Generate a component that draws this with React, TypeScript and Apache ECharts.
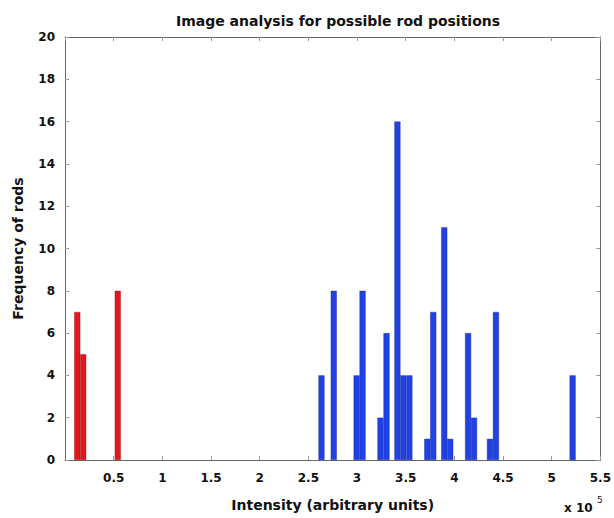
import React, { useEffect, useRef } from "react";
import * as echarts from "echarts";

const redCenters = [0.126, 0.187, 0.542];
const redCounts = [7, 5, 8];
const blueCenters = [2.635, 2.761, 2.996, 3.057, 3.241, 3.303, 3.415, 3.476, 3.538, 3.722, 3.783, 3.896, 3.957, 4.141, 4.202, 4.366, 4.427, 5.215];
const blueCounts = [4, 8, 4, 8, 2, 6, 16, 4, 4, 1, 7, 11, 1, 6, 2, 1, 7, 4];

const FONT = "DejaVu Sans";

export default function App() {
  const ref = useRef<HTMLDivElement>(null);
  useEffect(() => {
    document.body.style.margin = "0";
    const chart = echarts.init(ref.current!, null, { renderer: "svg" });
    const axisLine = { show: true, onZero: false, lineStyle: { color: "#666", width: 1 } };
    const axisTick = { show: true, inside: true, length: 4, lineStyle: { color: "#999" } };
    chart.setOption({
      animation: false,
      backgroundColor: "#fff",
      title: {
        text: "Image analysis for possible rod positions",
        left: 333,
        textAlign: "center",
        top: 9,
        textStyle: { fontFamily: FONT, fontSize: 14, fontWeight: "bold", color: "#111" },
      },
      grid: { left: 65, right: 11, top: 37, bottom: 58 },
      xAxis: [
        {
          type: "value",
          min: 0,
          max: 5.5,
          interval: 0.5,
          axisLine,
          axisTick,
          axisLabel: { showMinLabel: false, fontFamily: FONT, fontSize: 12, fontWeight: "bold", color: "#111", margin: 12 },
          splitLine: { show: false },
          name: "Intensity (arbitrary units)",
          nameLocation: "middle",
          nameGap: 38,
          nameTextStyle: { fontFamily: FONT, fontSize: 14, fontWeight: "bold", color: "#111" },
        },
        {
          type: "value",
          position: "top",
          min: 0,
          max: 5.5,
          interval: 0.5,
          axisLine,
          axisTick,
          axisLabel: { show: false },
          splitLine: { show: false },
        },
      ],
      yAxis: [
        {
          type: "value",
          min: 0,
          max: 20,
          interval: 2,
          axisLine,
          axisTick,
          axisLabel: { fontFamily: FONT, fontSize: 12, color: "#111", fontWeight: "bold", margin: 10 },
          splitLine: { show: false },
          name: "Frequency of rods",
          nameLocation: "middle",
          nameGap: 40,
          nameTextStyle: { fontFamily: FONT, fontSize: 14, fontWeight: "bold", color: "#111" },
        },
        {
          type: "value",
          position: "right",
          min: 0,
          max: 20,
          interval: 2,
          axisLine,
          axisTick,
          axisLabel: { show: false },
          splitLine: { show: false },
        },
      ],
      graphic: [
        { type: "text", left: 564, top: 502, style: { text: "x 10", font: `bold 12px "${FONT}"`, fill: "#111" } },
        { type: "text", left: 597, top: 495, style: { text: "5", font: `9px "${FONT}"`, fill: "#111" } },
      ],
      series: [
        {
          type: "bar",
          xAxisIndex: 0,
          yAxisIndex: 0,
          barWidth: 6,
          barGap: "-100%",
          itemStyle: { color: "#e3161c", borderColor: "#9a1414", borderWidth: 0.4 },
          data: redCenters.map((x, i) => [x, redCounts[i]]),
        },
        {
          type: "bar",
          xAxisIndex: 0,
          yAxisIndex: 0,
          barWidth: 6,
          barGap: "-100%",
          itemStyle: { color: "#2142e2", borderColor: "#16279a", borderWidth: 0.4 },
          data: blueCenters.map((x, i) => [x, blueCounts[i]]),
        },
      ],
    });
    return () => chart.dispose();
  }, []);
  return <div ref={ref} style={{ width: 614, height: 518 }} />;
}
